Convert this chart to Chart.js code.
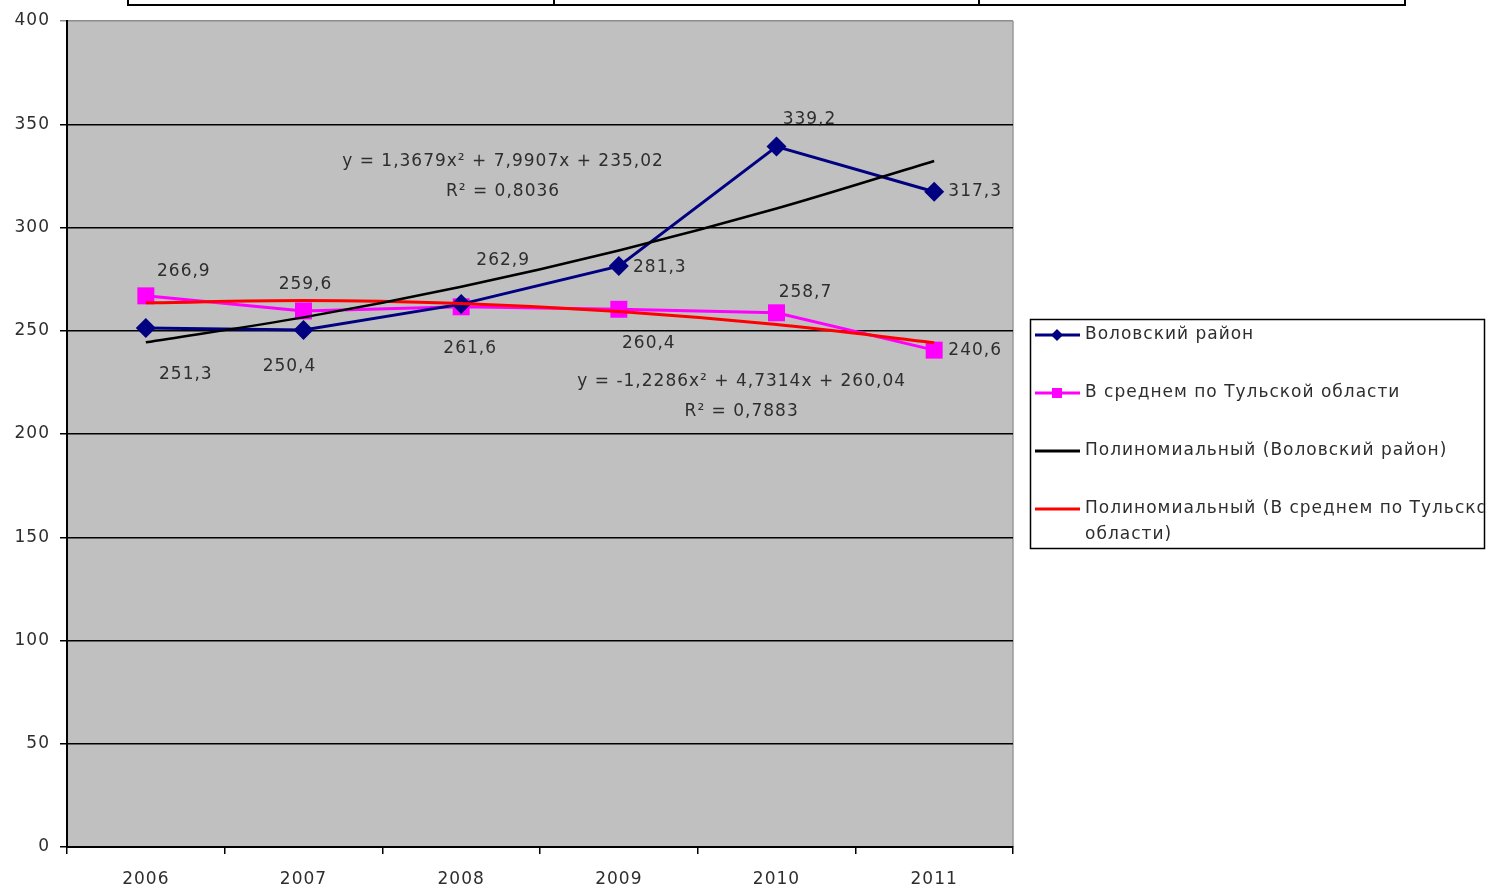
<!DOCTYPE html>
<html lang="ru">
<head>
<meta charset="utf-8">
<script src="https://cdn.jsdelivr.net/npm/chart.js@4.4.1/dist/chart.umd.min.js"></script>
<style>
  html, body { margin: 0; padding: 0; background: #ffffff; }
  #wrap { position: relative; width: 1486px; height: 887px; overflow: hidden; }
  #tbl { position: absolute; left: 127px; top: -4px; width: 1275px; height: 6px;
         border: 2px solid #000; display: flex; }
  #tbl div { flex: 1; border-right: 2px solid #000; }
  #tbl div:last-child { border-right: none; }
</style>
</head>
<body>
<div id="wrap">
  <div id="tbl"><div></div><div></div><div></div></div>
  <canvas id="c" width="1486" height="887"></canvas>
</div>
<script>
// Years on the category axis
const years = ['2006', '2007', '2008', '2009', '2010', '2011'];

// Воловский район
const volovsky = [251.3, 250.4, 262.9, 281.3, 339.2, 317.3];
// В среднем по Тульской области
const tulaAvg = [266.9, 259.6, 261.6, 260.4, 258.7, 240.6];

// Polynomial trend values at each year (x = 1..6)
// y = 1,3679x² + 7,9907x + 235,02
const volovskyTrend = [244.38, 256.47, 271.30, 288.87, 309.17, 332.21];
// y = -1,2286x² + 4,7314x + 260,04
const tulaTrend = [263.54, 264.59, 263.18, 259.31, 252.98, 244.20];

// Y axis tick values
const yTicks = [0, 50, 100, 150, 200, 250, 300, 350, 400];

// Trend equation captions
const eqVolovsky = ['y = 1,3679x² + 7,9907x + 235,02', 'R² = 0,8036'];
const eqTula = ['y = -1,2286x² + 4,7314x + 260,04', 'R² = 0,7883'];

// Label offsets from each point (dx, dy in px)
const volLabelOff = [[40, 47], [-14, 37], [42, -44], [41, 1], [33, -27], [41, 0]];
const tulaLabelOff = [[38, -24], [2, -26], [9, 42], [30, 34], [29, -20], [41, 0]];

const FONT = '"DejaVu Sans", sans-serif';
const TXT = '#2e2e2e';
const fmt = v => v.toFixed(1).replace('.', ',');

const plotBg = {
  id: 'plotBg',
  beforeDraw(chart) {
    const { ctx, chartArea: a } = chart;
    // wider tracking for every piece of text on the canvas
    ctx.letterSpacing = '1px';
    ctx.save();
    ctx.fillStyle = '#c0c0c0';
    ctx.fillRect(a.left, a.top, a.right - a.left, a.bottom - a.top);
    ctx.strokeStyle = '#9a9a9a';
    ctx.lineWidth = 1.5;
    ctx.beginPath();
    ctx.moveTo(a.right, a.top);
    ctx.lineTo(a.right, a.bottom);
    ctx.stroke();
    ctx.restore();
  }
};

const annotations = {
  id: 'annotations',
  afterDatasetsDraw(chart) {
    const { ctx } = chart;
    ctx.save();
    ctx.font = '17px ' + FONT;
    ctx.fillStyle = TXT;
    ctx.textBaseline = 'middle';
    ctx.textAlign = 'center';
    const drawLabels = (dsIndex, values, offs) => {
      const meta = chart.getDatasetMeta(dsIndex);
      meta.data.forEach((pt, i) => {
        ctx.fillText(fmt(values[i]), pt.x + offs[i][0], pt.y + offs[i][1]);
      });
    };
    drawLabels(2, volovsky, volLabelOff);
    drawLabels(3, tulaAvg, tulaLabelOff);

    // trend equations, placed relative to the scales
    const xs = chart.scales.x, ys = chart.scales.y;
    const midX1 = (xs.getPixelForValue(2) + xs.getPixelForValue(3)) / 2 - 37;
    ctx.fillText(eqVolovsky[0], midX1, ys.getPixelForValue(331.7));
    ctx.fillText(eqVolovsky[1], midX1, ys.getPixelForValue(317.2));
    const midX2 = (xs.getPixelForValue(3) + xs.getPixelForValue(4)) / 2 + 44;
    ctx.fillText(eqTula[0], midX2, ys.getPixelForValue(225.3));
    ctx.fillText(eqTula[1], midX2, ys.getPixelForValue(210.8));
    ctx.restore();
  }
};

const customLegend = {
  id: 'customLegend',
  afterDraw(chart) {
    const { ctx } = chart;
    const bx = 1030.5, by = 319.5, bw = 454, bh = 229;
    ctx.save();
    ctx.fillStyle = '#ffffff';
    ctx.fillRect(bx, by, bw, bh);
    ctx.strokeStyle = '#000';
    ctx.lineWidth = 1.5;
    ctx.strokeRect(bx, by, bw, bh);
    ctx.beginPath();
    ctx.rect(bx + 1, by + 1, bw - 2, bh - 2);
    ctx.clip();
    const items = [
      { ds: 2, y: 335 }, { ds: 3, y: 393 }, { ds: 0, y: 451 }, { ds: 1, y: 509 }
    ];
    ctx.font = '17px ' + FONT;
    ctx.textBaseline = 'middle';
    ctx.textAlign = 'left';
    items.forEach(it => {
      const d = chart.data.datasets[it.ds];
      ctx.strokeStyle = d.borderColor;
      ctx.lineWidth = 3;
      ctx.beginPath();
      ctx.moveTo(1035, it.y);
      ctx.lineTo(1080, it.y);
      ctx.stroke();
      if (d.pointStyle === 'rectRot') {
        ctx.fillStyle = d.borderColor;
        ctx.beginPath();
        ctx.moveTo(1057, it.y - 6); ctx.lineTo(1063, it.y);
        ctx.lineTo(1057, it.y + 6); ctx.lineTo(1051, it.y);
        ctx.closePath(); ctx.fill();
      } else if (d.pointStyle === 'rect') {
        ctx.fillStyle = d.borderColor;
        ctx.fillRect(1052, it.y - 5, 10, 10);
      }
      ctx.fillStyle = TXT;
      const lines = Array.isArray(d.legendLines) ? d.legendLines : [d.label];
      lines.forEach((t, k) => ctx.fillText(t, 1085, it.y + k * 26));
    });
    ctx.restore();
  }
};

new Chart(document.getElementById('c'), {
  type: 'line',
  data: {
    labels: years,
    datasets: [
      {
        label: 'Полиномиальный (Воловский район)',
        data: volovskyTrend,
        borderColor: '#000000',
        borderWidth: 2.5,
        pointRadius: 0,
        cubicInterpolationMode: 'monotone',
        order: 0
      },
      {
        label: 'Полиномиальный (В среднем по Тульской области)',
        legendLines: ['Полиномиальный (В среднем по Тульской', 'области)'],
        data: tulaTrend,
        borderColor: '#ff0000',
        borderWidth: 3,
        pointRadius: 0,
        cubicInterpolationMode: 'monotone',
        order: 0
      },
      {
        label: 'Воловский район',
        data: volovsky,
        borderColor: '#000080',
        backgroundColor: '#000080',
        borderWidth: 3,
        pointStyle: 'rectRot',
        pointRadius: 10,
        pointBorderWidth: 0,
        order: 1
      },
      {
        label: 'В среднем по Тульской области',
        data: tulaAvg,
        borderColor: '#ff00ff',
        backgroundColor: '#ff00ff',
        borderWidth: 3,
        pointStyle: 'rect',
        pointRadius: 12,
        pointBorderWidth: 0,
        order: 1
      }
    ]
  },
  options: {
    responsive: false,
    animation: false,
    events: [],
    layout: { padding: { left: 0, top: 21, right: 473, bottom: 0 } },
    plugins: { legend: { display: false }, tooltip: { enabled: false } },
    scales: {
      x: {
        offset: true,
        grid: {
          offset: true,
          drawOnChartArea: false,
          drawTicks: true,
          tickLength: 7,
          color: '#000',
          lineWidth: 1.5
        },
        border: { color: '#000', width: 2 },
        ticks: { color: TXT, font: { family: FONT, size: 17 }, padding: 15, maxRotation: 0 },
        afterFit(s) { s.height = 40; }
      },
      y: {
        min: 0,
        max: 400,
        afterBuildTicks(s) { s.ticks = yTicks.map(v => ({ value: v })); },
        grid: {
          color: ctx => (ctx.tick && ctx.tick.value === 400 ? '#8c8c8c' : '#000'),
          lineWidth: 1.5,
          tickLength: 7,
          drawTicks: true
        },
        border: { color: '#000', width: 2 },
        ticks: { color: TXT, font: { family: FONT, size: 17 }, padding: 10 },
        afterFit(s) { s.width = 67; }
      }
    }
  },
  plugins: [plotBg, annotations, customLegend]
});
</script>
</body>
</html>
